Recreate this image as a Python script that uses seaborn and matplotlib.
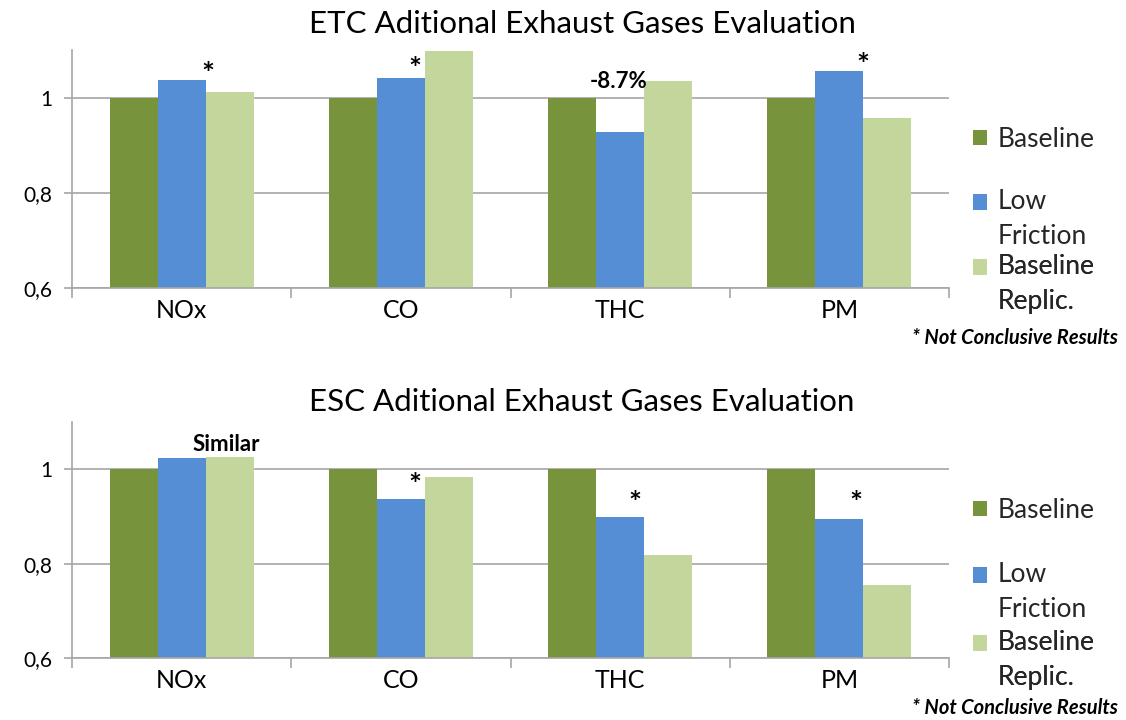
import matplotlib
matplotlib.use("Agg")
import matplotlib.pyplot as plt
import seaborn as sns
import pandas as pd
from matplotlib.ticker import FixedLocator
from matplotlib.legend_handler import HandlerPatch
from matplotlib.patches import Rectangle

# ---------------- data ----------------
categories = ["NOx", "CO", "THC", "PM"]
series = ["Baseline", "Low\nFriction", "Baseline\nReplic."]

etc_baseline = [1.0, 1.0, 1.0, 1.0]
etc_low_friction = [1.036, 1.042, 0.928, 1.055]
etc_replic = [1.011, 1.097, 1.034, 0.957]

esc_baseline = [1.0, 1.0, 1.0, 1.0]
esc_low_friction = [1.023, 0.936, 0.898, 0.895]
esc_replic = [1.025, 0.984, 0.819, 0.755]

y_ticks = [0.6, 0.8, 1.0]
y_tick_labels = ["0,6", "0,8", "1"]

titles = ["ETC Aditional Exhaust Gases Evaluation", "ESC Aditional Exhaust Gases Evaluation"]
note = "* Not Conclusive Results"

# annotations: (text, category position, value)
etc_notes = [("*", 0.12, 1.029), ("*", 1.064, 1.039), ("-8.7%", 1.993, 1.033), ("*", 3.108, 1.048)]
esc_notes = [("Similar", 0.202, 1.052), ("*", 1.064, 0.946), ("*", 2.068, 0.908), ("*", 3.076, 0.908)]

colors = ["#77933C", "#558ED5", "#C3D69B"]
grid_color = "#A6A6A6"

sns.set_theme(style="white")
plt.rcParams["font.family"] = ["Lato", "DejaVu Sans"]


class FirstLineHandler(HandlerPatch):
    """Square legend key aligned with the first line of a (multi-line) label."""

    def __init__(self, shift=0.0, **kw):
        super().__init__(**kw)
        self.shift = shift

    def create_artists(self, legend, orig_handle, xdescent, ydescent, width,
                       height, fontsize, trans):
        p = Rectangle((-xdescent, -ydescent + self.shift), width, height,
                      facecolor=orig_handle.get_facecolor(), edgecolor="none")
        p.set_transform(trans)
        return [p]


def make_df(b, l, r):
    rows = []
    for vals, s in zip([b, l, r], series):
        for c, v in zip(categories, vals):
            rows.append({"category": c, "series": s, "value": v})
    return pd.DataFrame(rows)


W, H = 1126, 720
fig = plt.figure(figsize=(W / 100, H / 100), dpi=100)
ax1 = fig.add_axes([72 / W, 1 - 288 / H, 877 / W, 238 / H])
ax2 = fig.add_axes([72 / W, 1 - 658 / H, 877 / W, 236 / H])

datasets = [make_df(etc_baseline, etc_low_friction, etc_replic),
            make_df(esc_baseline, esc_low_friction, esc_replic)]
notes = [etc_notes, esc_notes]
title_base = [33, 411]
legend_tops = [[127, 189, 254], [498, 562, 630]]
note_y = [338, 708]

for ax, df, nts, tb, ltops, ny, title in zip([ax1, ax2], datasets, notes, title_base,
                                             legend_tops, note_y, titles):
    sns.barplot(data=df, x="category", y="value", hue="series", palette=colors,
                width=0.656, saturation=1, ax=ax, edgecolor="none", linewidth=0,
                errorbar=None)
    handles, labels = ax.get_legend_handles_labels()
    if ax.get_legend() is not None:
        ax.get_legend().remove()

    ax.set_ylim(0.6, 1.1)
    ax.set_xlim(-0.5, 3.5)
    ax.set_yticks(y_ticks)
    ax.set_yticklabels(y_tick_labels)
    ax.set_xlabel("")
    ax.set_ylabel("")
    ax.yaxis.grid(True, color=grid_color, linewidth=1.2)
    ax.set_axisbelow(True)
    for side in ["top", "right"]:
        ax.spines[side].set_visible(False)
    for side in ["left", "bottom"]:
        ax.spines[side].set_color(grid_color)
        ax.spines[side].set_linewidth(1.2)
    ax.tick_params(axis="y", left=True, length=6, width=1.2, color=grid_color,
                   pad=8, labelsize=15, labelcolor="black")
    ax.tick_params(axis="x", which="major", length=0, pad=8, labelsize=18, labelcolor="black")
    ax.xaxis.set_minor_locator(FixedLocator([-0.5, 0.5, 1.5, 2.5, 3.5]))
    ax.tick_params(axis="x", which="minor", bottom=True, length=7.5, width=1.2,
                   color=grid_color, direction="out")

    for txt, x, y in nts:
        if txt == "*":
            ax.text(x, y, txt, ha="center", va="baseline", fontsize=22,
                    fontweight="bold", color="black")
        else:
            ax.text(x, y, txt, ha="center", va="center", fontsize=16,
                    fontweight="bold", color="black")

    fig.text(582 / W, 1 - tb / H, title, ha="center", va="baseline", fontsize=22.5,
             color="black")

    # legend: one entry per box so every key sits at its own fixed slot
    for h, lab, top in zip(handles, labels, ltops):
        shift = 12.8 if "\n" in lab else 0.0
        leg = ax.legend([h], [lab], loc="upper left",
                        bbox_to_anchor=(973 / W, 1 - top / H),
                        bbox_transform=fig.transFigure, frameon=False, fontsize=19,
                        handlelength=0.52, handleheight=0.52, handletextpad=0.42,
                        borderpad=0, borderaxespad=0,
                        handler_map={h: FirstLineHandler(shift=shift)})
        for t in leg.get_texts():
            t.set_linespacing(1.5)
        ax.add_artist(leg)

    fig.text(1015 / W, 1 - ny / H, note, ha="center", va="center", fontsize=14.5,
             fontweight="bold", fontstyle="italic", color="black")

fig.savefig("out.png", dpi=100)
